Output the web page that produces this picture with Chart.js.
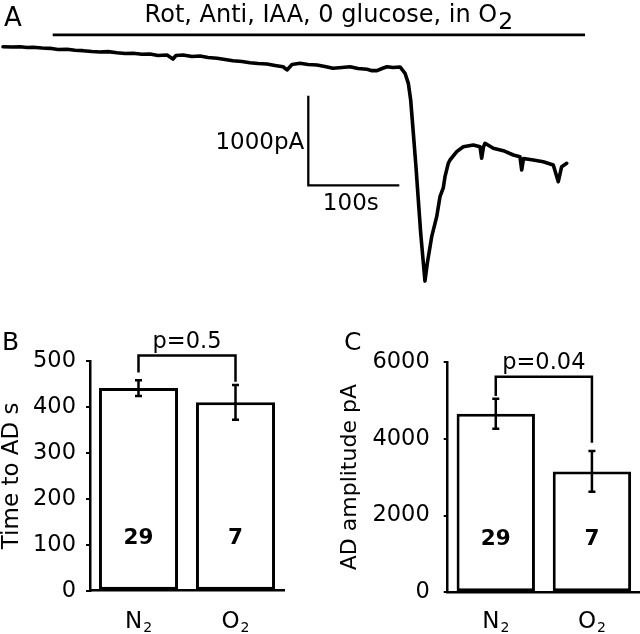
<!DOCTYPE html>
<html>
<head>
<meta charset="utf-8">
<script src="https://cdn.jsdelivr.net/npm/chart.js@4/dist/chart.umd.min.js"></script>
<style>
html,body{margin:0;padding:0;background:#fff;}
#wrap{position:relative;width:640px;height:634px;overflow:hidden;background:#fff;}
canvas{position:absolute;}
#cA{left:0;top:0;}
#cB{left:0;top:300px;}
#cC{left:320px;top:300px;}
</style>
</head>
<body>
<div id="wrap">
<canvas id="cA" width="640" height="300"></canvas>
<canvas id="cB" width="320" height="334"></canvas>
<canvas id="cC" width="320" height="334"></canvas>
</div>
<script>
// ---------- Panel A: current trace (time in s, current in pA) ----------
const traceTime = [
  0, 9.9, 18.7, 26.4, 33, 42.9, 51.6, 60.4, 70.3, 79.1,
  87.9, 97.8, 106.6, 115.4, 125.3, 134.1, 142.9, 152.7, 161.5, 170.3,
  180.2, 186.8, 190.1, 197.8, 207.7, 216.5, 225.3, 235.2, 244, 252.7,
  262.6, 271.4, 280.2, 290.1, 298.9, 307.7, 312.1, 317.6, 326.4, 335.2,
  345.1, 353.8, 362.6, 372.5, 381.3, 390.1, 400, 405.5, 411, 416.5,
  422, 428.6, 436.3, 441.8, 445.4, 448, 450.9, 453.8, 456.4, 459,
  461.9, 463.7, 466.3, 471.1, 476.6, 480.2, 483.8, 485.7, 489.3, 491.2,
  498.6, 505.8, 516.8, 524.2, 526, 528, 529.7, 538.8, 549.8, 560.8,
  568.1, 570, 572, 582.7, 593.7, 604.7, 610.2, 613.9, 619.5
];
const traceCurrent = [
  3, 0, 3, -6, -3, -11, -15, -28, -26, -37,
  -41, -50, -56, -52, -64, -72, -70, -81, -78, -95,
  -89, -134, -95, -89, -106, -100, -117, -126, -139, -153,
  -162, -175, -184, -190, -206, -220, -256, -195, -182, -195,
  -201, -217, -237, -229, -220, -240, -249, -264, -264, -240,
  -220, -229, -223, -293, -405, -591, -959, -1335, -1706, -2074,
  -2408, -2610, -2408, -2115, -1892, -1669, -1572, -1446, -1297, -1260,
  -1167, -1112, -1093, -1112, -1241, -1115, -1074, -1129, -1156, -1204,
  -1223, -1371, -1243, -1260, -1279, -1316, -1502, -1335, -1297
];
const drugBarTime = [54.6, 639.6];
const drugBarLevel = [136, 136];
const scaleBarTime = [335.5, 335.5, 435.5];
const scaleBarCurrent = [-544, -1544, -1544];
const scaleBarLabels = ['1000pA', '100s'];
const traceTitle = 'Rot, Anti, IAA, 0 glucose, in O2';

// ---------- Panels B and C ----------
const categories = ['N2', 'O2'];
const nCells = [29, 7];
const timeToAD = [441, 410];
const timeToADsem = [17, 38];
const timeTicks = [0, 500, 100];        // min, max, step
const timeBracket = [512, 475, 455];    // bracket level, left leg end, right leg end
const timeP = 'p=0.5';
const amplitude = [4650, 3150];
const amplitudeSem = [390, 530];
const ampTicks = [0, 6000, 2000];
const ampBracket = [5617, 5115, 3898];
const ampP = 'p=0.04';

const FONT = '"DejaVu Sans"';

function drawSub(ctx, text, cx, baseline, mainPx, subPx, drop, gap) {
  const main = text.slice(0, -1), sub = text.slice(-1);
  ctx.font = mainPx + 'px ' + FONT;
  const mw = ctx.measureText(main).width;
  ctx.font = subPx + 'px ' + FONT;
  const sw = ctx.measureText(sub).width;
  const start = cx - (mw + gap + sw) / 2;
  ctx.textAlign = 'left';
  ctx.textBaseline = 'alphabetic';
  ctx.font = mainPx + 'px ' + FONT;
  ctx.fillText(main, start, baseline);
  ctx.font = subPx + 'px ' + FONT;
  ctx.fillText(sub, start + mw + gap, baseline + drop);
}

const panelAPlugin = {
  id: 'panelA',
  afterDatasetsDraw(chart) {
    const {ctx, scales: {x, y}} = chart;
    ctx.save();
    ctx.fillStyle = '#000';
    ctx.font = '26px ' + FONT;
    ctx.textAlign = 'left';
    ctx.textBaseline = 'alphabetic';
    ctx.fillText('A', 4, 26);
    const barMid = (x.getPixelForValue(drugBarTime[0]) + x.getPixelForValue(drugBarTime[1])) / 2;
    drawSub(ctx, traceTitle, barMid + 10, 22.3, 24, 23.5, 6.5, 1);
    ctx.font = '23px ' + FONT;
    ctx.textAlign = 'right';
    ctx.fillText(scaleBarLabels[0], x.getPixelForValue(scaleBarTime[0]) - 4,
                 y.getPixelForValue(scaleBarCurrent[1] + 500) + 8.7);
    ctx.textAlign = 'center';
    ctx.fillText(scaleBarLabels[1], x.getPixelForValue(scaleBarTime[0] + 50) - 3,
                 y.getPixelForValue(scaleBarCurrent[2]) + 24.5);
    ctx.restore();
  }
};

new Chart(document.getElementById('cA'), {
  type: 'line',
  data: {
    datasets: [
      {data: traceTime.map((t, i) => ({x: t, y: traceCurrent[i]})),
       borderColor: '#000', borderWidth: 3.6, pointRadius: 0, tension: 0,
       borderJoinStyle: 'round', borderCapStyle: 'round', fill: false},
      {data: drugBarTime.map((t, i) => ({x: t, y: drugBarLevel[i]})),
       borderColor: '#000', borderWidth: 2.7, pointRadius: 0, fill: false},
      {data: scaleBarTime.map((t, i) => ({x: t, y: scaleBarCurrent[i]})),
       borderColor: '#000', borderWidth: 2.3, pointRadius: 0, fill: false,
       borderJoinStyle: 'miter', borderCapStyle: 'butt'}
    ]
  },
  options: {
    responsive: false, animation: false, devicePixelRatio: 1,
    layout: {padding: 0},
    plugins: {legend: {display: false}, tooltip: {enabled: false}},
    scales: {
      x: {type: 'linear', display: false, min: -3.3, max: 700},
      y: {type: 'linear', display: false, min: -2821, max: 524}
    }
  },
  plugins: [panelAPlugin]
});

const barPlugin = {
  id: 'barExtras',
  afterDatasetsDraw(chart) {
    const o = chart.options.plugins.barExtras;
    const {ctx, chartArea, scales: {x, y}} = chart;
    const vals = chart.data.datasets[0].data;
    ctx.save();
    ctx.strokeStyle = '#000';
    ctx.fillStyle = '#000';
    ctx.lineWidth = 2.5;
    ctx.lineCap = 'butt';
    // error bars
    vals.forEach((v, i) => {
      const cx = x.getPixelForValue(i);
      const t = y.getPixelForValue(v + o.sem[i]);
      const b = y.getPixelForValue(v - o.sem[i]);
      ctx.beginPath();
      ctx.moveTo(cx, t); ctx.lineTo(cx, b);
      ctx.moveTo(cx - 3.5, t); ctx.lineTo(cx + 3.5, t);
      ctx.moveTo(cx - 3.5, b); ctx.lineTo(cx + 3.5, b);
      ctx.stroke();
    });
    // significance bracket
    const x0 = x.getPixelForValue(0), x1 = x.getPixelForValue(1);
    const ly = y.getPixelForValue(o.bracket[0]);
    ctx.beginPath();
    ctx.lineJoin = 'miter';
    ctx.moveTo(x0, y.getPixelForValue(o.bracket[1]));
    ctx.lineTo(x0, ly);
    ctx.lineTo(x1, ly);
    ctx.lineTo(x1, y.getPixelForValue(o.bracket[2]));
    ctx.stroke();
    ctx.font = '22.5px ' + FONT;
    ctx.textAlign = 'center';
    ctx.textBaseline = 'alphabetic';
    ctx.fillText(o.p, (x0 + x1) / 2, ly - 7.5);
    // n counts
    ctx.font = 'bold 21.5px ' + FONT;
    o.n.forEach((n, i) => {
      ctx.fillText(String(n), x.getPixelForValue(i), chartArea.bottom - 47);
    });
    // category labels with subscripts
    chart.data.labels.forEach((lab, i) => {
      drawSub(ctx, lab, x.getPixelForValue(i), 328.3, 23, 14, 4, 1);
    });
    // panel letter
    ctx.font = '25px ' + FONT;
    ctx.textAlign = 'left';
    ctx.fillText(o.letter, o.letterX, 50);
    ctx.restore();
  }
};

function barChart(id, values, ticks, yTitle, extras, geom) {
  return new Chart(document.getElementById(id), {
    type: 'bar',
    data: {
      labels: categories,
      datasets: [{
        data: values, backgroundColor: '#fff', borderColor: '#000',
        borderWidth: 3, borderSkipped: false,
        barPercentage: 0.815, categoryPercentage: 1
      }]
    },
    options: {
      responsive: false, animation: false, devicePixelRatio: 1,
      layout: {padding: {left: 0, right: geom.right, top: geom.top, bottom: 0}},
      plugins: {legend: {display: false}, tooltip: {enabled: false}, barExtras: extras},
      scales: {
        x: {
          grid: {display: false}, ticks: {display: false},
          border: {display: true, color: '#000', width: 2.5},
          afterFit: s => { s.height = geom.xh; }
        },
        y: {
          min: ticks[0], max: ticks[1],
          ticks: {stepSize: ticks[2], color: '#000', padding: geom.tickPad,
                  font: {family: 'DejaVu Sans', size: 22.5},
                  callback: v => String(v)},
          grid: {drawOnChartArea: false, drawTicks: true, tickLength: 4, color: '#000', lineWidth: 2},
          border: {display: true, color: '#000', width: 2.5},
          title: {display: true, text: yTitle, color: '#000',
                  font: {family: 'DejaVu Sans', size: geom.titleSize},
                  padding: {top: geom.titlePad, bottom: 0}},
          afterFit: s => { s.width = geom.yw; }
        }
      }
    },
    plugins: [barPlugin]
  });
}

barChart('cB', timeToAD, timeTicks, 'Time to AD s',
  {sem: timeToADsem, n: nCells, p: timeP, bracket: timeBracket, letter: 'B', letterX: 2},
  {right: 36, top: 61, xh: 43.3, yw: 90, tickPad: 10, titleSize: 23, titlePad: -2});

barChart('cC', amplitude, ampTicks, 'AD amplitude pA',
  {sem: amplitudeSem, n: nCells, p: ampP, bracket: ampBracket, letter: 'C', letterX: 24},
  {right: 0, top: 62, xh: 41.7, yw: 127.7, tickPad: 14, titleSize: 22, titlePad: 17.5});
</script>
</body>
</html>
